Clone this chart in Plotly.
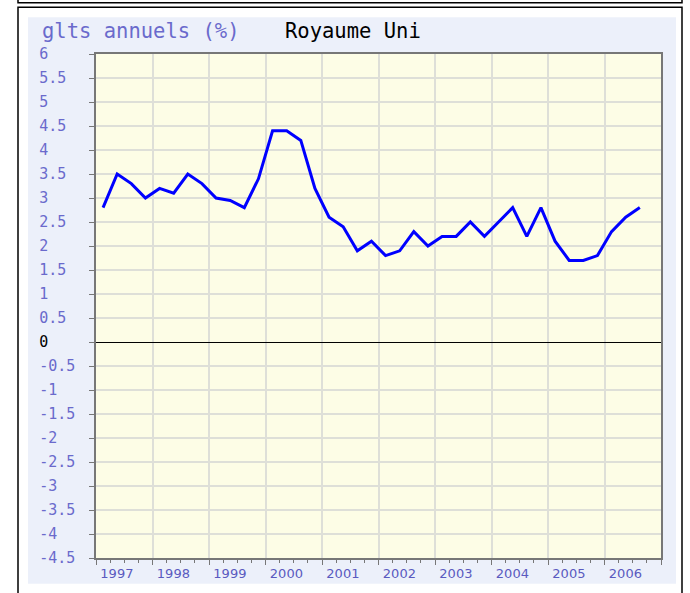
import plotly.graph_objects as go

# Quarterly data 1997Q1 .. 2006Q3
years = list(range(1997, 2007))
quarters = [(y, q) for y in years for q in range(1, 5)][:39]
values = [2.8, 3.5, 3.3, 3.0,
          3.2, 3.1, 3.5, 3.3,
          3.0, 2.95, 2.8, 3.4,
          4.4, 4.4, 4.2, 3.2,
          2.6, 2.4, 1.9, 2.1,
          1.8, 1.9, 2.3, 2.0,
          2.2, 2.2, 2.5, 2.2,
          2.5, 2.8, 2.2, 2.8,
          2.1, 1.7, 1.7, 1.8,
          2.3, 2.6, 2.8]
y_ticks = [6, 5.5, 5, 4.5, 4, 3.5, 3, 2.5, 2, 1.5, 1, 0.5, 0,
           -0.5, -1, -1.5, -2, -2.5, -3, -3.5, -4, -4.5]
year_labels = [str(y) for y in years]
title_left = "glts annuels (%)"
title_right = "Royaume Uni"

xs = [y + (q - 0.5) / 4 for (y, q) in quarters]

NB = "\u00a0"
def fmt(v):
    s = ("%g" % v)
    pad = NB * (4 - len(s))
    if v == 0:
        return "<span style='color:black'>" + s + "</span>" + pad
    return s + pad

W, H = 690, 593
L, R, T, B = 96, 29, 54, 32
pw, ph = W - L - R, H - T - B

def px(x):
    return (x - L) / pw
def py(y):
    return (H - B - y) / ph

fig = go.Figure()
fig.add_trace(go.Scatter(x=xs, y=values, mode="lines",
                         line=dict(color="#0000ff", width=3),
                         hoverinfo="skip", showlegend=False))
# invisible trace for label axis
fig.add_trace(go.Scatter(x=[1997, 2007], y=[0, 0], xaxis="x2", mode="markers",
                         marker=dict(opacity=0), hoverinfo="skip", showlegend=False))

shapes = [
    dict(type="rect", xref="paper", yref="paper", x0=px(18), x1=px(682), y0=py(-10), y1=py(2.5),
         line=dict(color="black", width=1.5), fillcolor="white", layer="below"),
    dict(type="rect", xref="paper", yref="paper", x0=px(18), x1=px(682), y0=py(7), y1=py(605),
         line=dict(color="black", width=1.5), fillcolor="white", layer="below"),
    dict(type="rect", xref="paper", yref="paper", x0=px(28), x1=px(676), y0=py(17), y1=py(587),
         line=dict(width=0), fillcolor="#ecf0fa", layer="below"),
    dict(type="rect", xref="paper", yref="paper", x0=0, x1=1, y0=0, y1=1,
         line=dict(width=0), fillcolor="#fdfde6", layer="below"),
]

fig.update_layout(
    width=W, height=H,
    margin=dict(l=L, r=R, t=T, b=B, pad=0),
    paper_bgcolor="white",
    plot_bgcolor="rgba(0,0,0,0)",
    shapes=shapes,
    xaxis=dict(range=[1997, 2007], tickvals=years + [2007], showticklabels=False,
               ticks="outside", ticklen=5, tickcolor="#777777",
               showgrid=True, gridcolor="#dedfd8", gridwidth=2,
               showline=True, linecolor="#777777", linewidth=1.5, mirror=True,
               zeroline=False,
               minor=dict(dtick=0.25, tick0=1997, ticks="outside", ticklen=3,
                          tickcolor="#777777", showgrid=False)),
    xaxis2=dict(range=[1997, 2007], overlaying="x", anchor="y", side="bottom",
                tickvals=[y + 0.37 for y in years], ticktext=year_labels,
                ticks="", showgrid=False, showline=False, zeroline=False,
                tickfont=dict(family="DejaVu Sans", size=13, color="#5a5ac0"),
                ticklabelstandoff=6),
    yaxis=dict(range=[-4.5, 6], tickvals=y_ticks, ticktext=[fmt(v) for v in y_ticks],
               ticks="outside", ticklen=5, tickcolor="#777777",
               tickfont=dict(family="DejaVu Sans Mono", size=15, color="#6a6acc"),
               ticklabelstandoff=11,
               showgrid=True, gridcolor="#dedfd8", gridwidth=2,
               showline=True, linecolor="#777777", linewidth=1.5, mirror=True,
               zeroline=True, zerolinecolor="black", zerolinewidth=1.2),
    annotations=[
        dict(text=title_left, xref="paper", yref="paper", x=px(40), y=py(31),
             xanchor="left", yanchor="middle", showarrow=False,
             font=dict(family="DejaVu Sans Mono", size=20.5, color="#6a6acc")),
        dict(text=title_right, xref="paper", yref="paper", x=px(283), y=py(31),
             xanchor="left", yanchor="middle", showarrow=False,
             font=dict(family="DejaVu Sans Mono", size=20.5, color="black")),
    ],
)

fig.write_html("out.html", config={"displayModeBar": False},
               post_script="document.body.style.margin='0';document.body.style.overflow='hidden';")
